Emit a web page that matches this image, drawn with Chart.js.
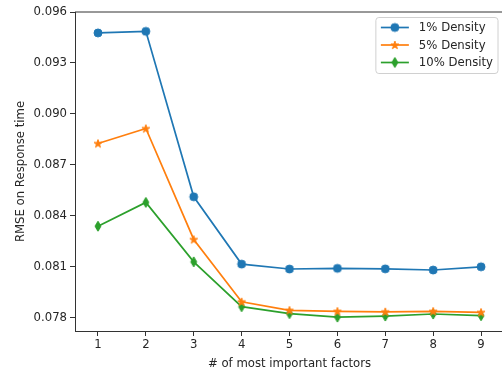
<!DOCTYPE html>
<html>
<head>
<meta charset="utf-8">
<script src="https://cdn.jsdelivr.net/npm/chart.js@4.4.0/dist/chart.umd.min.js"></script>
<style>
  html, body { margin: 0; padding: 0; background: #fff; overflow: hidden; }
  #wrap { width: 502px; height: 371px; overflow: hidden; }
</style>
</head>
<body>
<div id="wrap"><canvas id="chart" width="510" height="371"></canvas></div>
<script>
// values
const factors = [1, 2, 3, 4, 5, 6, 7, 8, 9];
const density1 = [0.09477, 0.09486, 0.08512, 0.08116, 0.08087, 0.08091, 0.08088, 0.08081, 0.08100];
const density5 = [0.08826, 0.08914, 0.08261, 0.07894, 0.07844, 0.07838, 0.07835, 0.07838, 0.07832];
const density10 = [0.08339, 0.08479, 0.08129, 0.07865, 0.07824, 0.07804, 0.07810, 0.07822, 0.07812];
const yTicks = [0.078, 0.081, 0.084, 0.087, 0.090, 0.093, 0.096];
const seriesNames = ['1% Density', '5% Density', '10% Density'];
const colors = ['#1f77b4', '#ff7f0e', '#2ca02c'];

const FONT = 'DejaVu Sans';
const FSIZE = 11.7;
const TEXT = '#262626';

function makeMarker(kind, color) {
    const c = document.createElement('canvas');
    c.width = 12;
    c.height = 12;
    const g = c.getContext('2d');
    g.fillStyle = color;
    g.strokeStyle = color;
    g.lineWidth = 1;
    g.beginPath();
    if (kind === 'star') {
        const outer = 4.2, inner = outer * 0.382;
        for (let i = 0; i < 10; i++) {
            const r = i % 2 === 0 ? outer : inner;
            const a = -Math.PI / 2 + i * Math.PI / 5;
            const px = 6 + r * Math.cos(a), py = 6.3 + r * Math.sin(a);
            if (i === 0) g.moveTo(px, py); else g.lineTo(px, py);
        }
    } else if (kind === 'thin') {
        g.moveTo(6, 1);
        g.lineTo(9, 6);
        g.lineTo(6, 11);
        g.lineTo(3, 6);
    } else {
        g.arc(6, 6, 4, 0, Math.PI * 2);
    }
    g.closePath();
    g.fill();
    g.stroke();
    return c;
}

const markers = [makeMarker('circle', colors[0]), makeMarker('star', colors[1]), makeMarker('thin', colors[2])];

function toPoints(vals) {
    return factors.map((x, i) => ({ x: x, y: vals[i] }));
}

function dataset(i, vals) {
    return {
        label: seriesNames[i],
        data: toPoints(vals),
        borderColor: colors[i],
        backgroundColor: colors[i],
        borderWidth: 1.7,
        pointStyle: markers[i],
        pointRadius: 4,
        pointHoverRadius: 4,
        tension: 0,
        fill: false
    };
}

// matplotlib-like legend box with line + marker
const boxLegend = {
    id: 'boxLegend',
    afterDatasetsDraw(chart) {
        const ctx = chart.ctx;
        const area = chart.chartArea;
        ctx.save();
        ctx.font = FSIZE + 'px "' + FONT + '"';
        let textW = 0;
        seriesNames.forEach(n => { textW = Math.max(textW, ctx.measureText(n).width); });
        const w = 5 + 28 + 10 + textW + 5;
        const h = 56;
        const x0 = area.right - 6 - w;
        const y0 = area.top + 5.5;
        ctx.beginPath();
        ctx.roundRect(x0, y0, w, h, 3);
        ctx.fillStyle = 'rgba(255,255,255,0.8)';
        ctx.fill();
        ctx.strokeStyle = '#d0d0d0';
        ctx.lineWidth = 1;
        ctx.stroke();
        seriesNames.forEach((n, i) => {
            const cy = y0 + 10 + i * 17.5;
            ctx.beginPath();
            ctx.moveTo(x0 + 5, cy);
            ctx.lineTo(x0 + 33, cy);
            ctx.strokeStyle = colors[i];
            ctx.lineWidth = 1.7;
            ctx.stroke();
            ctx.drawImage(markers[i], x0 + 19 - 6, cy - 6);
            ctx.fillStyle = TEXT;
            ctx.textBaseline = 'middle';
            ctx.textAlign = 'left';
            ctx.fillText(n, x0 + 43, cy + 0.5);
        });
        ctx.restore();
    }
};

// top spine (the right spine falls outside the picture)
const frame = {
    id: 'frame',
    beforeDatasetsDraw(chart) {
        const ctx = chart.ctx;
        const a = chart.chartArea;
        ctx.save();
        ctx.strokeStyle = '#333';
        ctx.lineWidth = 1;
        ctx.beginPath();
        ctx.moveTo(a.left, a.top);
        ctx.lineTo(a.right + 10, a.top);
        ctx.stroke();
        ctx.restore();
    }
};

new Chart(document.getElementById('chart'), {
    type: 'line',
    data: {
        datasets: [dataset(0, density1), dataset(1, density5), dataset(2, density10)]
    },
    plugins: [frame, boxLegend],
    options: {
        responsive: false,
        animation: false,
        devicePixelRatio: 1,
        layout: { padding: { left: 0, top: 12, right: 6, bottom: 0 } },
        plugins: {
            legend: { display: false },
            tooltip: { enabled: false }
        },
        scales: {
            x: {
                type: 'linear',
                min: 0.52,
                max: 9.48,
                afterBuildTicks: scale => { scale.ticks = factors.map(v => ({ value: v })); },
                afterFit: scale => { scale.height = 40; },
                grid: { display: true, drawOnChartArea: false, drawTicks: true, tickLength: 5, color: '#333' },
                border: { display: true, color: '#333', width: 1 },
                ticks: { color: TEXT, font: { family: FONT, size: FSIZE }, padding: 2, maxRotation: 0 },
                title: {
                    display: true,
                    text: '# of most important factors',
                    color: TEXT,
                    font: { family: FONT, size: FSIZE },
                    padding: { top: 2, bottom: 0 }
                }
            },
            y: {
                type: 'linear',
                min: 0.07722,
                max: 0.096,
                afterBuildTicks: scale => { scale.ticks = yTicks.map(v => ({ value: v })); },
                afterFit: scale => { scale.width = 75; },
                grid: { display: true, drawOnChartArea: false, drawTicks: true, tickLength: 5, color: '#333' },
                border: { display: true, color: '#333', width: 1 },
                ticks: {
                    color: TEXT,
                    font: { family: FONT, size: FSIZE },
                    padding: 3,
                    callback: v => v.toFixed(3)
                },
                title: {
                    display: true,
                    text: 'RMSE on Response time',
                    color: TEXT,
                    font: { family: FONT, size: FSIZE },
                    padding: { top: 14, bottom: 0 }
                }
            }
        }
    }
});
</script>
</body>
</html>
